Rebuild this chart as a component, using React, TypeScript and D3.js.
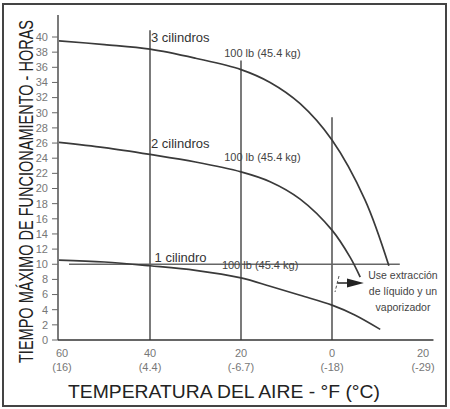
import React from "react";
import * as d3 from "d3";

// Temperature (°F) vs max running hours
const cyl3F = [60, 50, 40, 30, 20, 13.6, 7, 0, -7.25, -12.5];
const cyl3H = [39.5, 39.0, 38.4, 37.2, 35.7, 34.0, 31.2, 26.4, 18.5, 9.8];
const cyl2F = [60, 50, 40, 30, 20, 13.6, 7, 0, -4, -6.2];
const cyl2H = [26.1, 25.4, 24.5, 23.5, 22.2, 20.9, 18.6, 14.5, 10.9, 8.3];
const cyl1F = [60, 50, 40, 30, 20, 13.6, 7, 0, -5, -10.6];
const cyl1H = [10.55, 10.3, 9.8, 9.2, 8.2, 7.1, 5.9, 4.6, 3.3, 1.4];

const yTicks = d3.range(0, 41, 2);
const xTicksF = [60, 40, 20, 0, -20];
const xTickLabels = ["60", "40", "20", "0", "20"];
const xTickC = ["(16)", "(4.4)", "(-6.7)", "(-18)", "(-29)"];

// vertical reference lines: temperature and top (hours)
const refF = [40, 20, 0];
const refTop = [40.9, 36.9, 29.4];
// horizontal 10 h line span (°F)
const hLineH = 10;
const hLineSpan = [57.8, -14.9];

const seriesLabels = ["3 cilindros", "2 cilindros", "1 cilindro"];
const weightLabel = "100 lb (45.4 kg)";
const noteLines = ["Use extracción", "de líquido y un", "vaporizador"];
const yTitle = "TIEMPO MÁXIMO DE FUNCIONAMIENTO - HORAS";
const xTitle = "TEMPERATURA DEL AIRE - °F (°C)";

export default function App() {
  const x = d3.scaleLinear().domain([60, -20]).range([59, 423]);
  const y = d3.scaleLinear().domain([0, 40]).range([340, 37]);
  const line = d3
    .line<[number, number]>()
    .x((d) => x(d[0]))
    .y((d) => y(d[1]))
    .curve(d3.curveCatmullRom.alpha(0.5));

  const series = [
    cyl3F.map((f, i) => [f, cyl3H[i]] as [number, number]),
    cyl2F.map((f, i) => [f, cyl2H[i]] as [number, number]),
    cyl1F.map((f, i) => [f, cyl1H[i]] as [number, number]),
  ];
  const font = "'Liberation Sans', Arial, Helvetica, sans-serif";
  const labelPos = [
    { lx: x(40) + 1, ly: 42, wx: x(23.7), wy: 57 },
    { lx: x(40) + 1, ly: 148, wx: x(23.7), wy: 161 },
    { lx: x(39), ly: 262, wx: x(24.2), wy: 269 },
  ];
  const noteX = 403;

  return (
    <svg
      width={450}
      height={409}
      style={{ position: "absolute", left: 0, top: 0, background: "#fff" }}
      fontFamily={font}
    >
      <rect x={3} y={4} width={443} height={402} fill="#fff" stroke="#444" strokeWidth={2} />

      {/* axes */}
      <line x1={x(60) - 1} x2={x(60) - 1} y1={y(42.9)} y2={y(0)} stroke="#333" strokeWidth={1.3} />
      <line x1={x(60) - 1} x2={x(-22.3)} y1={y(0)} y2={y(0)} stroke="#333" strokeWidth={1.3} />
      {yTicks.map((t) => (
        <g key={t}>
          <line x1={x(60) - 7} x2={x(60) - 1} y1={y(t)} y2={y(t)} stroke="#666" strokeWidth={1} />
          <text x={48} y={y(t)} dy="0.35em" textAnchor="end" fontSize={11} fill="#777">
            {t}
          </text>
        </g>
      ))}
      {xTicksF.map((f, i) => (
        <g key={f}>
          <text x={x(f) + (i === 0 ? 3 : 0)} y={357} textAnchor="middle" fontSize={11} fill="#777">
            {xTickLabels[i]}
          </text>
          <text x={x(f) + (i === 0 ? 3 : 0)} y={371} textAnchor="middle" fontSize={11} fill="#777">
            {xTickC[i]}
          </text>
        </g>
      ))}

      {/* reference lines */}
      {refF.map((f, i) => (
        <line key={f} x1={x(f)} x2={x(f)} y1={y(refTop[i])} y2={y(0)} stroke="#333" strokeWidth={1.3} />
      ))}
      <line
        x1={x(hLineSpan[0])}
        x2={x(hLineSpan[1])}
        y1={y(hLineH)}
        y2={y(hLineH)}
        stroke="#666"
        strokeWidth={1.6}
      />

      {/* curves */}
      {series.map((s, i) => (
        <path key={i} d={line(s) || ""} fill="none" stroke="#3a3a3a" strokeWidth={1.7} />
      ))}

      {/* labels */}
      {seriesLabels.map((l, i) => (
        <g key={l}>
          <text x={labelPos[i].lx} y={labelPos[i].ly} fontSize={13} fill="#333">
            {l}
          </text>
          <text x={labelPos[i].wx} y={labelPos[i].wy} fontSize={11} fill="#444">
            {weightLabel}
          </text>
        </g>
      ))}

      {/* note */}
      <line x1={339} x2={335} y1={276} y2={292} stroke="#555" strokeWidth={1} strokeDasharray="3,2" />
      <line x1={x(-1.2)} x2={x(-3.5)} y1={283} y2={283} stroke="#222" strokeWidth={1.5} />
      <path d={`M${x(-3.3)},278.5 L${x(-7)},283 L${x(-3.3)},287.5 Z`} fill="#222" />
      {noteLines.map((t, i) => (
        <text key={t} x={noteX} y={279 + i * 16} textAnchor="middle" fontSize={10.5} fill="#444">
          {t}
        </text>
      ))}

      {/* titles */}
      <text
        transform={`translate(33,${191.5}) rotate(-90) scale(1,1.5)`}
        textAnchor="middle"
        fontSize={14}
        fill="#222"
        textLength={343}
        lengthAdjust="spacingAndGlyphs"
      >
        {yTitle}
      </text>
      <text x={224} y={398} textAnchor="middle" fontSize={19} fill="#222" textLength={312} lengthAdjust="spacingAndGlyphs">
        {xTitle}
      </text>
    </svg>
  );
}
